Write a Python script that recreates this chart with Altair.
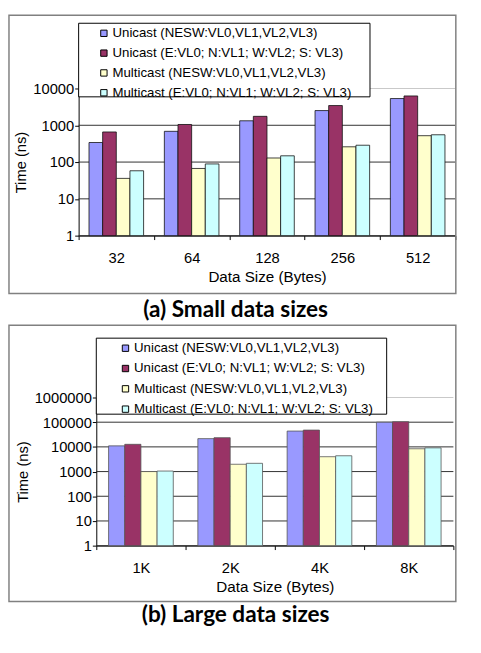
import altair as alt
import pandas as pd

series = [
    "Unicast (NESW:VL0,VL1,VL2,VL3)",
    "Unicast (E:VL0; N:VL1; W:VL2; S: VL3)",
    "Multicast (NESW:VL0,VL1,VL2,VL3)",
    "Multicast (E:VL0; N:VL1; W:VL2; S: VL3)",
]
colors = ["#9999FF", "#993366", "#FFFFCC", "#CCFFFF"]

sizes_small = ["32", "64", "128", "256", "512"]
uni_nesw_small = [340, 685, 1325, 2510, 5330]
uni_e_small = [658, 1050, 1750, 3440, 6270]
multi_nesw_small = [36, 67, 129, 260, 521]
multi_e_small = [58, 89, 148, 287, 552]
ticks_small = [1, 10, 100, 1000, 10000]

sizes_large = ["1K", "2K", "4K", "8K"]
uni_nesw_large = [11000, 21600, 43700, 100000]
uni_e_large = [12700, 23600, 47900, 105000]
multi_nesw_large = [1000, 1980, 4000, 8400]
multi_e_large = [1050, 2160, 4370, 9150]
ticks_large = [1, 10, 100, 1000, 10000, 100000, 1000000]

title_small = "(a) Small data sizes"
title_large = "(b) Large data sizes"

FONT = "Liberation Sans"


def make_df(cats, cols):
    rows = []
    for s, vals in zip(series, cols):
        for c, v in zip(cats, vals):
            rows.append({"size": c, "series": s, "time": v, "base": 1})
    return pd.DataFrame(rows)


def panel(cats, cols, ticks, width, height, x_range, y_off, leg_x, leg_y, leg_row,
          box, frame, spacer, title, title_x, title_y, bar_stroke):
    df = make_df(cats, cols)
    y_axis = alt.Axis(values=ticks, format="d", title="Time (ns)", tickSize=4,
                      labelPadding=1, titlePadding=4, grid=False, offset=y_off,
                      domainColor="black", tickColor="black", labelColor="black",
                      titleColor="black", labelFontSize=15, titleFontSize=15,
                      labelFont=FONT, titleFont=FONT, titleFontWeight="normal")
    y_scale = alt.Scale(type="log", domain=[ticks[0], ticks[-1]], nice=False)
    bars = alt.Chart(df).mark_bar(stroke=bar_stroke, strokeWidth=0.8).encode(
        x=alt.X("size:N", sort=cats,
                scale=alt.Scale(paddingInner=0, paddingOuter=0, range=x_range),
                axis=alt.Axis(title="Data Size (Bytes)", labelAngle=0, tickBand="extent",
                              tickSize=4, labelPadding=11, titlePadding=5, grid=False,
                              domainColor="black", tickColor="black", labelColor="black",
                              titleColor="black", labelFontSize=15, titleFontSize=15.5,
                              labelFont=FONT, titleFont=FONT, titleFontWeight="normal")),
        xOffset=alt.XOffset("series:N", sort=series,
                            scale=alt.Scale(paddingInner=0, paddingOuter=0.76)),
        y=alt.Y("time:Q", scale=y_scale, axis=y_axis),
        y2="base:Q",
        color=alt.Color("series:N", sort=series,
                        scale=alt.Scale(domain=series, range=colors),
                        legend=alt.Legend(orient="none", legendX=leg_x, legendY=leg_y,
                                          title=None, symbolType="square", symbolSize=42,
                                          symbolStrokeColor="black", symbolStrokeWidth=1,
                                          labelFontSize=13.5, labelFont=FONT,
                                          labelColor="black", labelOffset=2,
                                          rowPadding=leg_row, padding=0, labelLimit=400)),
    )
    grid = alt.Chart(pd.DataFrame({"time": ticks})).mark_rule(strokeWidth=1).encode(
        y=alt.Y("time:Q", scale=y_scale, axis=y_axis),
        x=alt.value(x_range[0]), x2=alt.value(x_range[1]),
        color=alt.condition(f"datum.time >= {ticks[-1]}", alt.value("#c8c8c8"),
                            alt.value("#303030")),
    )
    one = pd.DataFrame({"t": [title]})
    spacer_mark = alt.Chart(one).mark_rect(fill="white", opacity=0).encode(
        x=alt.value(spacer[0]), x2=alt.value(spacer[1]),
        y=alt.value(spacer[2]), y2=alt.value(spacer[3]))
    frame_mark = alt.Chart(one).mark_rect(fill="white", fillOpacity=0, stroke="#808080",
                                          strokeWidth=1.5).encode(
        x=alt.value(frame[0]), x2=alt.value(frame[1]),
        y=alt.value(frame[2]), y2=alt.value(frame[3]))
    box_mark = alt.Chart(one).mark_rect(fill="white", stroke="black", strokeWidth=1).encode(
        x=alt.value(box[0]), x2=alt.value(box[1]),
        y=alt.value(box[2]), y2=alt.value(box[3]))
    title_mark = alt.Chart(one).mark_text(font="Lato", fontWeight="bold", fontSize=23,
                                          align="center", baseline="middle",
                                          color="black").encode(
        text="t:N", x=alt.value(title_x), y=alt.value(title_y))
    return alt.layer(spacer_mark, grid, bars, box_mark, frame_mark, title_mark).properties(
        width=width, height=height)


# both panels share the same plot origin (vconcat aligns them); the top panel's
# x range starts 18px left of it, and its y axis is offset by the same amount
top = panel(sizes_small,
            [uni_nesw_small, uni_e_small, multi_nesw_small, multi_e_small],
            ticks_small, 366, 150, x_range=[-18, 366], y_off=18,
            leg_x=1, leg_y=-63, leg_row=5.2,
            box=(-18, 279, -66.5, 8.5), frame=(-89, 366.5, -74.75, 209),
            spacer=(-89.75, 367, -75.5, 240),
            title=title_small, title_x=142, title_y=226, bar_stroke="#111111")

bottom = panel(sizes_large,
               [uni_nesw_large, uni_e_large, multi_nesw_large, multi_e_large],
               ticks_large, 364, 151, x_range=[0, 364], y_off=0,
               leg_x=23, leg_y=-57, leg_row=5.7,
               box=(0, 296, -60.5, 17), frame=(-89, 366.5, -73.75, 208),
               spacer=(-89.75, 367, -74.5, 234),
               title=title_large, title_x=142, title_y=222, bar_stroke="#555555")

chart = alt.vconcat(top, bottom, spacing=0).resolve_scale(
    x="independent", y="independent", xOffset="independent", color="independent"
).resolve_legend(color="independent").properties(padding=0).configure_view(stroke=None)

chart.save("out.html", embed_options={"renderer": "svg", "actions": False})
